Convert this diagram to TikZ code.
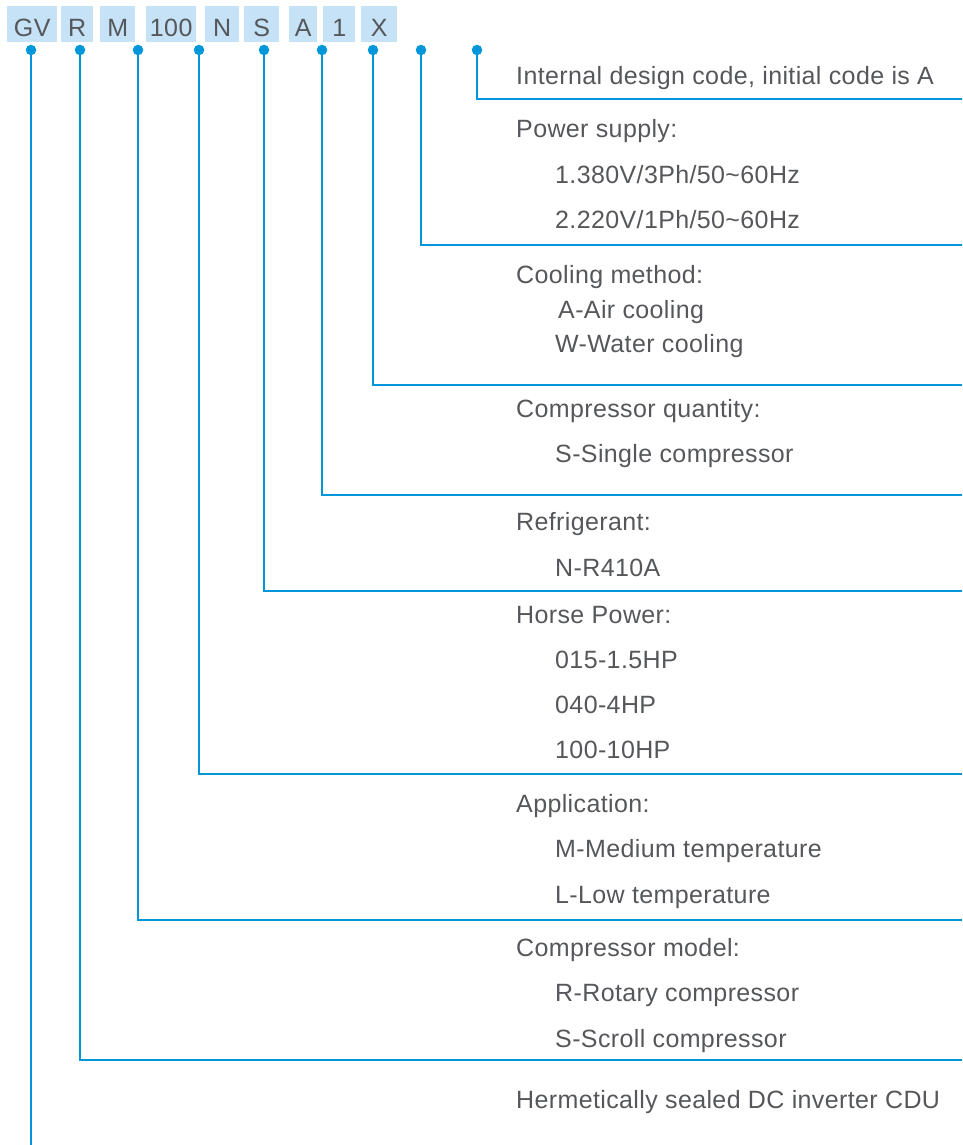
\documentclass[tikz,border=0pt]{standalone}
\usepackage{fontspec}
\setmainfont{Liberation Sans}[LetterSpace=1.5]
\usetikzlibrary{positioning}

\definecolor{wireblue}{RGB}{0,150,218}
\definecolor{boxblue}{RGB}{197,226,246}
\definecolor{txtgray}{RGB}{85,87,90}

\tikzset{
  codebox/.style={fill=boxblue, text=txtgray, inner sep=0pt, anchor=north west,
    text height=30pt, text depth=6pt, align=center},
  dot/.style={circle, fill=wireblue, inner sep=0pt, minimum size=10.5pt},
  wire/.style={draw=wireblue, line width=2.3pt},
  head/.style={anchor=base west, inner sep=0pt, text=txtgray},
  item/.style={anchor=base west, inner sep=0pt, text=txtgray}
}

\begin{document}
\begin{tikzpicture}[x=1pt,y=-1pt]
  \fontsize{25}{30}\selectfont
  \useasboundingbox (0,0) rectangle (962,1145);

  % code letters
  \node[codebox, minimum width=50pt] (gv) at (7,6) {GV};
  \node[codebox, minimum width=32pt] (r) at (61,6) {R};
  \node[codebox, minimum width=35pt] (m) at (100,6) {M};
  \node[codebox, minimum width=50pt] (hp) at (146,6) {100};
  \node[codebox, minimum width=34pt] (n) at (205,6) {N};
  \node[codebox, minimum width=35pt] (s) at (244,6) {S};
  \node[codebox, minimum width=28pt] (a) at (289,6) {A};
  \node[codebox, minimum width=32pt] (one) at (323,6) {1};
  \node[codebox, minimum width=36pt] (x) at (361,6) {X};

  % dots
  \node[dot] (dgv) at (31,50) {};
  \node[dot] (dr) at (80,50) {};
  \node[dot] (dm) at (138,50) {};
  \node[dot] (dhp) at (199,50) {};
  \node[dot] (dn) at (264,50) {};
  \node[dot] (ds) at (322,50) {};
  \node[dot] (da) at (373,50) {};
  \node[dot] (done) at (421,50) {};
  \node[dot] (dx) at (477,50) {};

  % line ends
  \coordinate (egv) at (31,1145);
  \coordinate (er) at (962,1060);
  \coordinate (em) at (962,920);
  \coordinate (ehp) at (962,774);
  \coordinate (en) at (962,591);
  \coordinate (es) at (962,495);
  \coordinate (ea) at (962,385);
  \coordinate (eone) at (962,245);
  \coordinate (ex) at (962,99);

  \draw[wire] (dgv) -- (egv);
  \draw[wire] (dr) |- (er);
  \draw[wire] (dm) |- (em);
  \draw[wire] (dhp) |- (ehp);
  \draw[wire] (dn) |- (en);
  \draw[wire] (ds) |- (es);
  \draw[wire] (da) |- (ea);
  \draw[wire] (done) |- (eone);
  \draw[wire] (dx) |- (ex);

  % texts
  \node[head] (tx) at (516,85) {Internal design code, initial code is A};
  \node[head] (tone) at (516,137) {Power supply:};
  \node[item] (tone1) at (555,183) {1.380V/3Ph/50\textasciitilde60Hz};
  \node[item] (tone2) at (555,228) {2.220V/1Ph/50\textasciitilde60Hz};
  \node[head] (ta) at (516,283) {Cooling method:};
  \node[item] (ta1) at (558,318) {A-Air cooling};
  \node[item] (ta2) at (555,352) {W-Water cooling};
  \node[head] (ts) at (516,417) {Compressor quantity:};
  \node[item] (ts1) at (555,462) {S-Single compressor};
  \node[head] (tn) at (516,530) {Refrigerant:};
  \node[item] (tn1) at (555,576) {N-R410A};
  \node[head] (thp) at (516,623) {Horse Power:};
  \node[item] (thp1) at (555,668) {015-1.5HP};
  \node[item] (thp2) at (555,713) {040-4HP};
  \node[item] (thp3) at (555,758) {100-10HP};
  \node[head] (tm) at (516,812) {Application:};
  \node[item] (tm1) at (555,857) {M-Medium temperature};
  \node[item] (tm2) at (555,903) {L-Low temperature};
  \node[head] (tr) at (516,956) {Compressor model:};
  \node[item] (tr1) at (555,1001) {R-Rotary compressor};
  \node[item] (tr2) at (555,1047) {S-Scroll compressor};
  \node[head] (tgv) at (516,1108) {Hermetically sealed DC inverter CDU};
\end{tikzpicture}
\end{document}
